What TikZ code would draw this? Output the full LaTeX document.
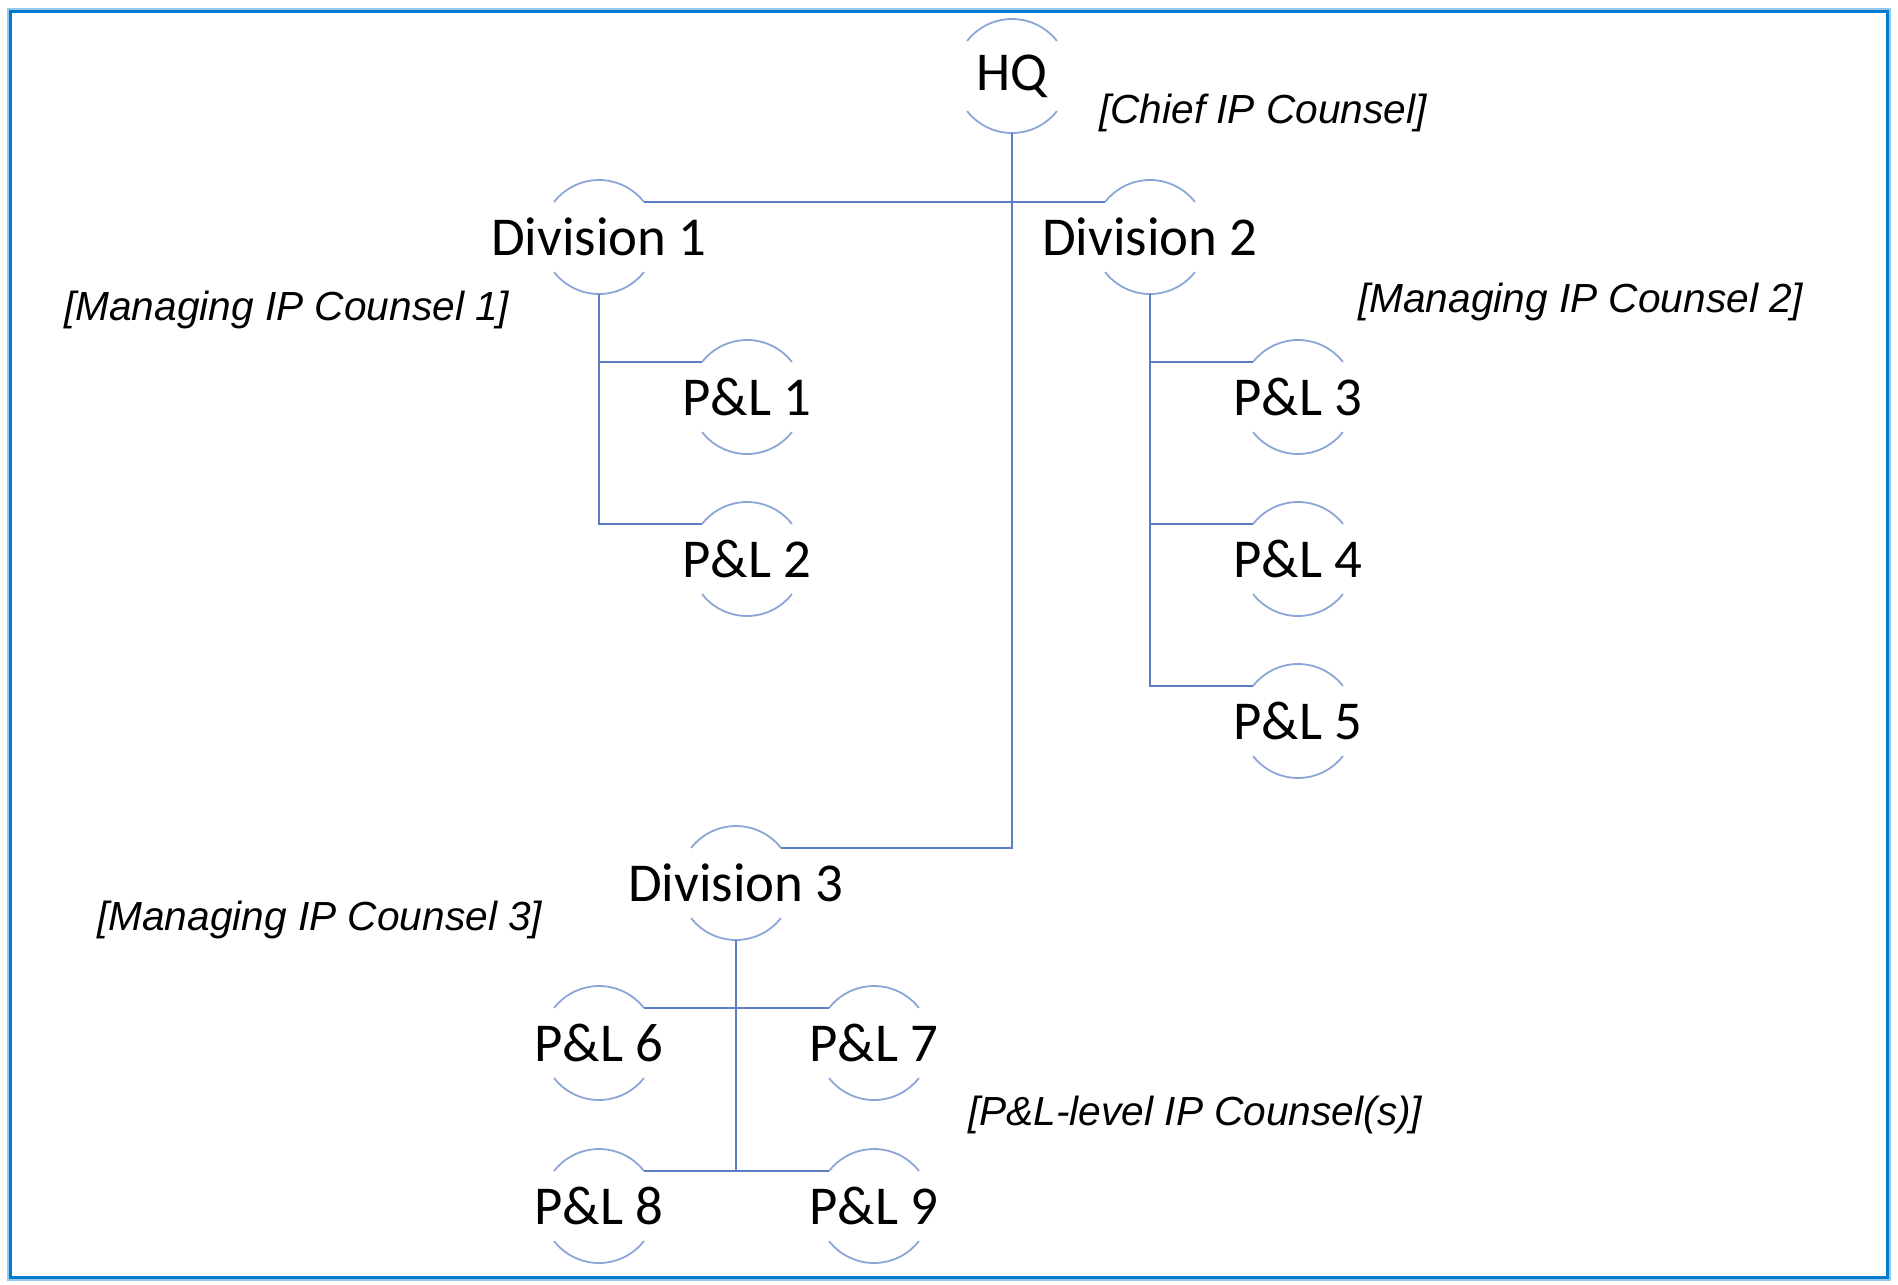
\documentclass[tikz,border=0pt]{standalone}
\usepackage{fontspec}
\setmainfont{Carlito}
\newfontfamily\annfont{Liberation Sans}
\definecolor{arcblue}{RGB}{140,165,215}
\definecolor{lineblue}{RGB}{90,125,195}
\definecolor{frameblue}{RGB}{0,125,210}
\definecolor{frameshade}{RGB}{150,200,235}
\begin{document}
\begin{tikzpicture}[x=1bp,y=1bp,
  unit/.style={circle, minimum size=114bp, inner sep=0pt, outer sep=0pt,
    font=\fontsize{55}{60}\selectfont},
  conn/.style={draw=lineblue, line width=1.8bp},
  ring/.style={draw=arcblue, line width=1.8bp},
  note/.style={font=\annfont\itshape\fontsize{40.8}{48}\selectfont, inner sep=0pt, anchor=west}]
\useasboundingbox (0,0) rectangle (1898,-1284);
\draw[frameshade, line width=5bp] (9,-10) rectangle (1888,-1278);
\draw[frameblue, line width=3bp] (10,-11) rectangle (1887,-1277);

\node[unit] (hq) at (1012,-76) {\makebox[0pt]{HQ}};
\node[unit] (d1) at (599,-237) {\makebox[0pt]{Division 1}};
\node[unit] (d2) at (1150,-237) {\makebox[0pt]{Division 2}};
\node[unit] (d3) at (736,-883) {\makebox[0pt]{Division 3}};
\node[unit] (p1) at (747,-397) {\makebox[0pt]{P\&L 1}};
\node[unit] (p2) at (747,-559) {\makebox[0pt]{P\&L 2}};
\node[unit] (p3) at (1298,-397) {\makebox[0pt]{P\&L 3}};
\node[unit] (p4) at (1298,-559) {\makebox[0pt]{P\&L 4}};
\node[unit] (p5) at (1298,-721) {\makebox[0pt]{P\&L 5}};
\node[unit] (p6) at (599,-1043) {\makebox[0pt]{P\&L 6}};
\node[unit] (p7) at (874,-1043) {\makebox[0pt]{P\&L 7}};
\node[unit] (p8) at (599,-1206) {\makebox[0pt]{P\&L 8}};
\node[unit] (p9) at (874,-1206) {\makebox[0pt]{P\&L 9}};

\foreach \n in {hq,d1,d2,d3,p1,p2,p3,p4,p5,p6,p7,p8,p9}
  \draw[ring] (\n.38) arc[start angle=38, end angle=142, radius=57bp]
              (\n.218) arc[start angle=218, end angle=322, radius=57bp];

\node[note] (chief) at (1099,-113) {[Chief IP Counsel]};
\node[note] (m1) at (64,-310) {[Managing IP Counsel 1]};
\node[note] (m2) at (1358,-302) {[Managing IP Counsel 2]};
\node[note] (m3) at (97,-920) {[Managing IP Counsel 3]};
\node[note] (plc) at (968,-1115) {[P\&L-level IP Counsel(s)]};

\draw[conn] (d1.38) -- (d2.142);
\draw[conn] (hq.south) |- (d3.38);
\draw[conn] (d1.south) |- (p1.142);
\draw[conn] (d1.south) |- (p2.142);
\draw[conn] (d2.south) |- (p3.142);
\draw[conn] (d2.south) |- (p4.142);
\draw[conn] (d2.south) |- (p5.142);
\draw[conn] (d3.south) -- (d3.south |- p8.38);
\draw[conn] (p6.38) -- (p7.142);
\draw[conn] (p8.38) -- (p9.142);
\end{tikzpicture}
\end{document}
